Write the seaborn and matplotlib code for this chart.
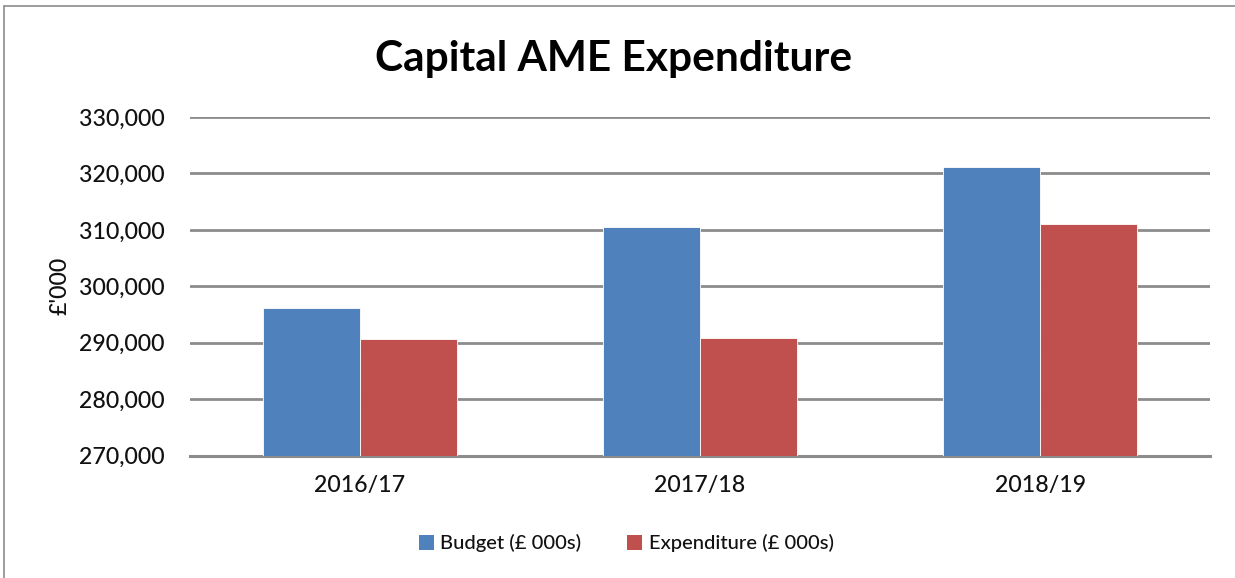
import matplotlib
matplotlib.use("Agg")
import matplotlib.pyplot as plt
import seaborn as sns
import pandas as pd
from matplotlib.ticker import FuncFormatter
from matplotlib.lines import Line2D
from matplotlib.patches import Patch

years = ["2016/17", "2017/18", "2018/19"]
budget = [296100, 310600, 321100]
expenditure = [290650, 290850, 311100]
series_names = ["Budget (£ 000s)", "Expenditure (£ 000s)"]
colors = ["#4F81BD", "#C0504D"]

df = pd.DataFrame({
    "year": years * 2,
    "value": budget + expenditure,
    "series": [series_names[0]] * 3 + [series_names[1]] * 3,
})

sns.set_style("white")
plt.rcParams["font.family"] = ["Lato", "DejaVu Sans"]

fig = plt.figure(figsize=(12.35, 5.78), dpi=100)
ax = fig.add_axes([0.1538, 0.2116, 0.8262, 0.586])

sns.barplot(data=df, x="year", y="value", hue="series", palette=colors,
            width=0.57, ax=ax, saturation=1, legend=False,
            edgecolor="#ffffff", linewidth=0.6, zorder=3)

ax.set_ylim(270000, 330000)
ax.set_xlim(-0.5, 2.5)
ax.set_yticks(range(270000, 330001, 10000))
ax.yaxis.set_major_formatter(FuncFormatter(lambda v, p: f"{int(v):,}"))
ax.grid(axis="y", color="#8c8c8c", linewidth=2, zorder=0)
ax.set_axisbelow(True)
for s in ["top", "right", "left"]:
    ax.spines[s].set_visible(False)
ax.spines["bottom"].set_color("#8c8c8c")
ax.spines["bottom"].set_linewidth(2.2)
ax.tick_params(axis="both", length=0, labelsize=16.7, colors="#111111")
for lbl in ax.get_xticklabels() + ax.get_yticklabels():
    lbl.set_fontweight("medium")
ax.tick_params(axis="y", pad=18)
ax.tick_params(axis="x", pad=14)
ax.set_xlabel("")
ax.set_ylabel("£'000", fontsize=16.7, color="#111111", labelpad=6, fontweight="medium")

fig.text(0.497, 0.898, "Capital AME Expenditure", ha="center", va="center",
         fontsize=30.5, fontweight="bold", color="black")

handles = [Patch(facecolor=c, edgecolor="none") for c in colors]
leg = fig.legend(handles, series_names, loc="center", bbox_to_anchor=(0.507, 0.06),
                 ncol=2, frameon=False, fontsize=14.5, handlelength=0.75, handleheight=0.75,
                 handletextpad=0.3, columnspacing=2.3)
for t in leg.get_texts():
    t.set_fontweight("medium")
    t.set_color("#111111")

# figure border (left and top visible)
fig.add_artist(Line2D([4/1235, 4/1235], [0, 1 - 6/578], transform=fig.transFigure,
                      color="#8c8c8c", linewidth=1.2))
fig.add_artist(Line2D([4/1235, 1], [1 - 6/578, 1 - 6/578], transform=fig.transFigure,
                      color="#8c8c8c", linewidth=1.2))

fig.savefig("out.png", dpi=100)
